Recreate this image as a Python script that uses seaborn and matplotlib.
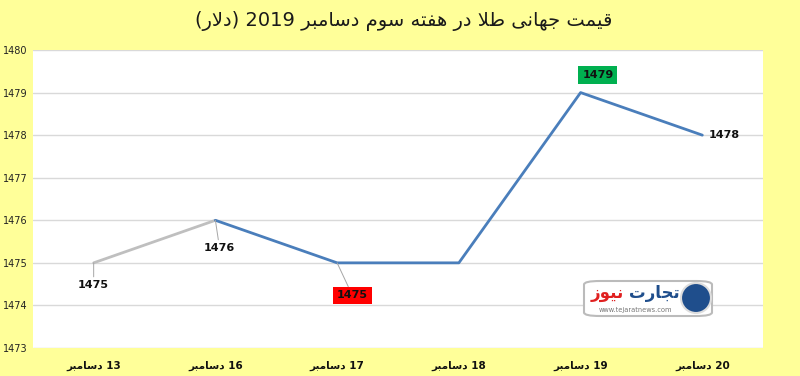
import matplotlib
matplotlib.use("Agg")
import matplotlib.pyplot as plt
import seaborn as sns
import numpy as np
import pandas as pd
from matplotlib.patches import FancyBboxPatch, Ellipse

# ---------------- data ----------------
title_text = "قیمت جهانی طلا در هفته سوم دسامبر 2019 (دلار)"
dates = ["13 دسامبر", "16 دسامبر", "17 دسامبر", "18 دسامبر", "19 دسامبر", "20 دسامبر"]
prices = [1475, 1476, 1475, 1475, 1479, 1478]
y_ticks = [1473, 1474, 1475, 1476, 1477, 1478, 1479, 1480]

# ---------------- simple Persian shaping (presentation forms + RTL order) ----------------
FORMS = {
    'ا': ('\uFE8D', '\uFE8E', None, None),
    'ب': ('\uFE8F', '\uFE90', '\uFE91', '\uFE92'),
    'ت': ('\uFE95', '\uFE96', '\uFE97', '\uFE98'),
    'ج': ('\uFE9D', '\uFE9E', '\uFE9F', '\uFEA0'),
    'د': ('\uFEA9', '\uFEAA', None, None),
    'ر': ('\uFEAD', '\uFEAE', None, None),
    'ز': ('\uFEAF', '\uFEB0', None, None),
    'س': ('\uFEB1', '\uFEB2', '\uFEB3', '\uFEB4'),
    'ط': ('\uFEC1', '\uFEC2', '\uFEC3', '\uFEC4'),
    'ف': ('\uFED1', '\uFED2', '\uFED3', '\uFED4'),
    'ق': ('\uFED5', '\uFED6', '\uFED7', '\uFED8'),
    'ل': ('\uFEDD', '\uFEDE', '\uFEDF', '\uFEE0'),
    'م': ('\uFEE1', '\uFEE2', '\uFEE3', '\uFEE4'),
    'ن': ('\uFEE5', '\uFEE6', '\uFEE7', '\uFEE8'),
    'ه': ('\uFEE9', '\uFEEA', '\uFEEB', '\uFEEC'),
    'و': ('\uFEED', '\uFEEE', None, None),
    'ی': ('\uFEEF', '\uFEF0', '\uFEF3', '\uFEF4'),
}


def dual(c):
    return c in FORMS and FORMS[c][2] is not None


def shape_word(w):
    out = []
    i = 0
    n = len(w)
    while i < n:
        c = w[i]
        if c not in FORMS:
            out.append(c)
            i += 1
            continue
        prev_joins = i > 0 and dual(w[i - 1])
        if c == 'ل' and i + 1 < n and w[i + 1] == 'ا':
            out.append('\uFEFC' if prev_joins else '\uFEFB')
            i += 2
            continue
        next_joins = dual(c) and i + 1 < n and w[i + 1] in FORMS
        iso, fin, ini, med = FORMS[c]
        if prev_joins and next_joins:
            out.append(med)
        elif prev_joins:
            out.append(fin)
        elif next_joins:
            out.append(ini)
        else:
            out.append(iso)
        i += 1
    return ''.join(out)


MIRROR = {'(': ')', ')': '('}


def rtl(text):
    tokens = text.split(' ')
    vis = []
    for t in tokens:
        if any(ch in FORMS for ch in t):
            s = shape_word(t)
            s = ''.join(MIRROR.get(ch, ch) for ch in reversed(s))
            vis.append(s)
        else:
            vis.append(t)
    return ' '.join(reversed(vis))


# ---------------- figure ----------------
sns.set_style("white")
plt.rcParams['font.family'] = ['DejaVu Sans']

BG = "#FFFF99"
fig = plt.figure(figsize=(8.0, 3.76), dpi=100, facecolor=BG)
ax = fig.add_axes([0.041, 0.0745, 0.913, 0.7925])
ax.set_facecolor("white")

x = np.arange(len(dates))
df = pd.DataFrame({"x": x, "price": prices})

sns.lineplot(data=df.iloc[0:2], x="x", y="price", ax=ax, color="#BFBFBF",
             linewidth=2.0, zorder=3)
sns.lineplot(data=df.iloc[1:], x="x", y="price", ax=ax, color="#4A7EBB",
             linewidth=2.0, zorder=3)

ax.set_xlim(-0.5, len(dates) - 0.5)
ax.set_ylim(y_ticks[0], y_ticks[-1])
ax.set_yticks(y_ticks)
ax.set_yticklabels([str(v) for v in y_ticks], fontsize=7, color="#222222", ha="left")
ax.tick_params(axis="y", length=0, pad=21.5)
ax.set_xticks(x)
ax.set_xticklabels([rtl(d) for d in dates], fontsize=7.5, fontweight="bold", color="#111111")
ax.tick_params(axis="x", length=0, pad=9)
ax.set_xlabel("")
ax.set_ylabel("")
ax.grid(axis="y", color="#D9D9D9", linewidth=1.0)
ax.grid(axis="x", visible=False)
for s in ax.spines.values():
    s.set_visible(False)

lead = dict(arrowstyle="-", color="#A6A6A6", linewidth=0.7, shrinkA=0, shrinkB=0)

# data labels
ax.annotate(str(prices[0]), (x[0], prices[0]), xytext=(0, -16), textcoords="offset points",
            ha="center", va="center", fontsize=8, fontweight="bold", color="#111111",
            arrowprops=lead, zorder=5)
ax.annotate(str(prices[1]), (x[1], prices[1]), xytext=(3, -20), textcoords="offset points",
            ha="center", va="center", fontsize=8, fontweight="bold", color="#111111",
            arrowprops=lead, zorder=5)
ax.annotate(str(prices[2]), (x[2], prices[2]), xytext=(11, -23.5), textcoords="offset points",
            ha="center", va="center", fontsize=8, fontweight="bold", color="#111111",
            bbox=dict(boxstyle="square,pad=0.35", fc="#FF0000", ec="none"),
            arrowprops=lead, zorder=5)
ax.annotate(str(prices[4]), (x[4], prices[4]), xytext=(12.5, 12.5), textcoords="offset points",
            ha="center", va="center", fontsize=8, fontweight="bold", color="#111111",
            bbox=dict(boxstyle="square,pad=0.35", fc="#00B050", ec="none"), zorder=5)
ax.annotate(str(prices[5]), (x[5], prices[5]), xytext=(16, 0), textcoords="offset points",
            ha="center", va="center", fontsize=8, fontweight="bold", color="#111111",
            zorder=5)

# title
fig.text(0.505, 0.945, rtl(title_text), ha="center", va="center", fontsize=14,
         color="#1a1a1a")

# watermark logo (decorative)
W, H = 800.0, 376.0
fig.patches.append(FancyBboxPatch((584 / W, 1 - 316 / H), 128 / W, 35 / H,
                                  boxstyle="round,pad=0,rounding_size=0.02",
                                  transform=fig.transFigure, fc="white", ec="#BBBBBB", lw=1.5,
                                  mutation_aspect=H / W, zorder=6))
fig.patches.append(Ellipse((696 / W, 1 - 298 / H), 30 / W, 30 / H, transform=fig.transFigure,
                           fc="#1F4E8C", ec="#DDDDDD", lw=1.5, zorder=7))
fig.text(680 / W, 1 - 293 / H, rtl("تجارت"), ha="right", va="center",
         fontsize=12, fontweight="bold", color="#1F4E8C", zorder=8)
fig.text(624 / W, 1 - 293 / H, rtl("نیوز"), ha="right", va="center",
         fontsize=12, fontweight="bold", color="#E02020", zorder=8)
fig.text(635 / W, 1 - 310 / H, "www.tejaratnews.com", ha="center", va="center",
         fontsize=4.8, color="#777777", zorder=8)

fig.savefig("out.png", dpi=100, facecolor=BG)
